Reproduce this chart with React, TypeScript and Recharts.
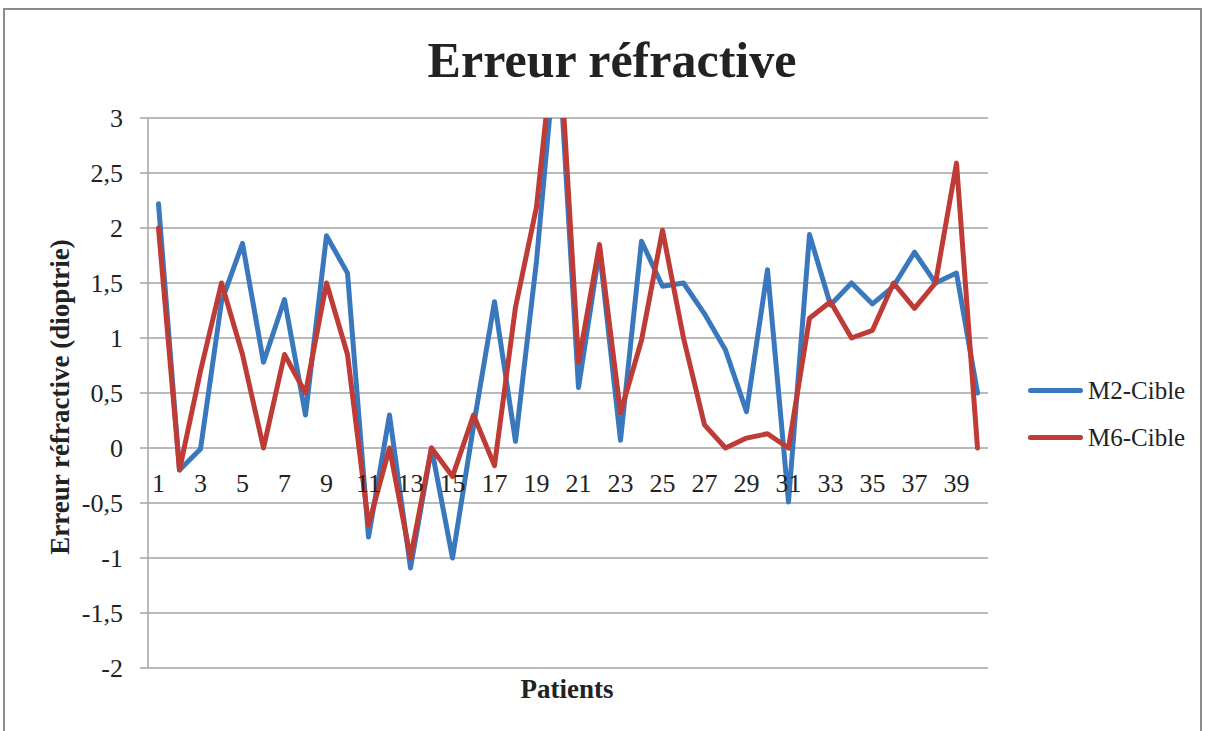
import React from 'react';
import { LineChart, Line, XAxis, YAxis, CartesianGrid, Legend } from 'recharts';

const patients = ['1','2','3','4','5','6','7','8','9','10','11','12','13','14','15','16','17','18','19','20',
  '21','22','23','24','25','26','27','28','29','30','31','32','33','34','35','36','37','38','39','40'];
const m2Cible = [2.22, -0.2, -0.01, 1.33, 1.86, 0.78, 1.35, 0.3, 1.93, 1.59, -0.81, 0.3, -1.09, 0, -1.0, 0.2, 1.33, 0.06, 1.7, 3.8,
  0.55, 1.8, 0.07, 1.88, 1.47, 1.5, 1.22, 0.89, 0.33, 1.62, -0.49, 1.94, 1.3, 1.5, 1.31, 1.47, 1.78, 1.5, 1.59, 0.5];
const m6Cible = [2.0, -0.2, 0.7, 1.5, 0.85, 0, 0.85, 0.5, 1.5, 0.85, -0.7, 0, -1.0, 0, -0.26, 0.3, -0.16, 1.28, 2.19, 4.0,
  0.78, 1.85, 0.32, 0.98, 1.98, 1.0, 0.21, 0, 0.09, 0.13, 0, 1.18, 1.33, 1.0, 1.07, 1.5, 1.27, 1.5, 2.59, 0];
const yTicks = [-2, -1.5, -1, -0.5, 0, 0.5, 1, 1.5, 2, 2.5, 3];
const seriesNames = ['M2-Cible', 'M6-Cible'];

const data = patients.map((p, i) => ({ patient: p, m2: m2Cible[i], m6: m6Cible[i] }));

const W = 1206, H = 731;
const Y_MIN = -2, Y_MAX = 3;
const PLOT_H = 550;
const zeroOffset = PLOT_H * (0 - Y_MIN) / (Y_MAX - Y_MIN);
const SERIF = '"Liberation Serif", "Times New Roman", serif';
const BLUE = '#3A78BD', RED = '#BE3B36', GRID = '#a3a3a3', TEXT = '#222';

function PatientTick(props: any) {
  const { x, y, payload } = props;
  // the category axis crosses the value axis at 0
  return (
    <text x={x} y={y - zeroOffset + 44} textAnchor="middle" fontSize={26} fontFamily={SERIF} fill={TEXT}>
      {payload.value}
    </text>
  );
}

function LegendBox(props: any) {
  const items = props.payload || [];
  return (
    <div>
      {items.map((it: any) => (
        <div key={it.value} style={{ display: 'flex', alignItems: 'center', height: 47 }}>
          <div style={{ width: 55, height: 5, borderRadius: 3, background: it.color, marginRight: 5 }} />
          <span style={{ fontFamily: SERIF, fontSize: 25, color: TEXT }}>{it.value}</span>
        </div>
      ))}
    </div>
  );
}

export default function App() {
  return (
    <div style={{ position: 'absolute', left: 0, top: 0, width: W, height: H, background: '#fff' }}>
      <LineChart width={W} height={H} data={data} margin={{ top: 118, right: 40, bottom: 33, left: 0 }}>
        <CartesianGrid vertical={false} stroke={GRID} strokeWidth={1.5} />
        <XAxis dataKey="patient" interval={1} height={30} axisLine={false} tickLine={false}
          padding={{ left: 10.5, right: 10.5 }}
          tickSize={0} tickMargin={0} tick={<PatientTick />} />
        <YAxis width={148} domain={[Y_MIN, Y_MAX]} ticks={yTicks} allowDataOverflow interval={0}
          axisLine={{ stroke: GRID, strokeWidth: 1.5 }} tickLine={{ stroke: GRID, strokeWidth: 1.5 }}
          tickSize={8} tickMargin={17}
          tick={{ fontSize: 26, fontFamily: SERIF, fill: TEXT }}
          tickFormatter={(v: number) => String(v).replace('.', ',')} />
        <Legend layout="vertical" align="right" verticalAlign="top" content={<LegendBox />}
          wrapperStyle={{ left: 1028, top: 367, width: 178 }} />
        <Line type="linear" dataKey="m2" name={seriesNames[0]} stroke={BLUE} strokeWidth={5} dot={false}
          strokeLinejoin="round" strokeLinecap="round" isAnimationActive={false} />
        <Line type="linear" dataKey="m6" name={seriesNames[1]} stroke={RED} strokeWidth={5} dot={false}
          strokeLinejoin="round" strokeLinecap="round" isAnimationActive={false} />
      </LineChart>
      <svg width={W} height={H} style={{ position: 'absolute', left: 0, top: 0, pointerEvents: 'none' }}>
        <polyline points="4,731 4,9 1201,9 1201,731" fill="none" stroke="#8c8c8c" strokeWidth={2} />
        <text x={612} y={77} textAnchor="middle" fontSize={50} fontWeight="bold" fontFamily={SERIF} fill={TEXT}>
          Erreur réfractive
        </text>
        <text x={567} y={698} textAnchor="middle" fontSize={27} fontWeight="bold" fontFamily={SERIF} fill={TEXT}>
          Patients
        </text>
        <text transform="translate(69,397) rotate(-90)" textAnchor="middle" fontSize={27} fontWeight="bold"
          fontFamily={SERIF} fill={TEXT}>
          Erreur réfractive (dioptrie)
        </text>
      </svg>
    </div>
  );
}
